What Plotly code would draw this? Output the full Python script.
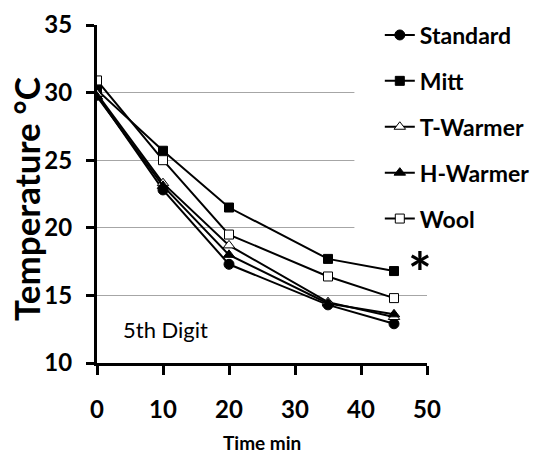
import plotly.graph_objects as go

time_min = [0, 10, 20, 35, 45]
series_names = ["Standard", "Mitt", "T-Warmer", "H-Warmer", "Wool"]
standard = [29.8, 22.8, 17.3, 14.3, 12.9]
mitt = [30.2, 25.7, 21.5, 17.7, 16.8]
t_warmer = [29.9, 23.3, 18.7, 14.5, 13.4]
h_warmer = [29.7, 23.1, 18.0, 14.4, 13.6]
wool = [30.9, 25.0, 19.5, 16.4, 14.8]
x_ticks = [0, 10, 20, 30, 40, 50]
y_ticks = [10, 15, 20, 25, 30, 35]

FONT = "Lato"
styles = [
    dict(symbol="circle", color="black", size=10),
    dict(symbol="square", color="black", size=9),
    dict(symbol="triangle-up", color="white", size=10),
    dict(symbol="triangle-up", color="black", size=10),
    dict(symbol="square", color="white", size=9),
]
values = [standard, mitt, t_warmer, h_warmer, wool]

fig = go.Figure()
for i, (name, vals, st) in enumerate(zip(series_names, values, styles)):
    fig.add_trace(go.Scatter(
        x=time_min, y=vals, name=name, mode="lines+markers",
        legendgroup=name,
        line=dict(color="black", width=2),
        marker=dict(symbol=st["symbol"], color=st["color"], size=st["size"],
                    line=dict(color="black", width=1)),
    ))

# white panel hiding the gridlines behind the legend
fig.add_shape(type="rect", xref="x", yref="y", x0=39, x1=51, y0=15.6, y1=36,
              fillcolor="white", line=dict(width=0), layer="between")

fig.update_layout(
    width=542, height=455,
    margin=dict(l=97, r=115, t=25, b=92, autoexpand=False),
    paper_bgcolor="white", plot_bgcolor="white",
    font=dict(family=FONT, color="black"),
    showlegend=True,
    legend=dict(x=0.857, xanchor="left", y=1.034, yanchor="top",
                bgcolor="rgba(0,0,0,0)", font=dict(size=23, family=FONT, weight="bold"),
                tracegroupgap=13, itemwidth=30),
    xaxis=dict(range=[0, 50], tickvals=x_ticks, showgrid=False,
               showline=True, linecolor="black", linewidth=3,
               ticks="outside", ticklen=9, tickwidth=3, tickcolor="black",
               ticklabelstandoff=14,
               tickfont=dict(size=24, family=FONT, weight="bold"),
               zeroline=False),
    yaxis=dict(range=[10, 35], tickvals=y_ticks, showgrid=True,
               gridcolor="#a6a6a6", gridwidth=1,
               showline=True, linecolor="black", linewidth=3,
               ticks="outside", ticklen=8, tickwidth=3, tickcolor="black",
               ticklabelstandoff=9,
               tickfont=dict(size=24, family=FONT, weight="bold"),
               zeroline=False),
)

fig.add_annotation(text="Temperature °C", xref="paper", yref="paper",
                   x=0, y=0.5, xshift=-71, yshift=-5, xanchor="center", yanchor="middle",
                   textangle=-90, showarrow=False,
                   font=dict(size=35, family=FONT, weight="bold"))
fig.add_annotation(text="Time min", xref="paper", yref="paper",
                   x=0.5, y=0, yshift=-93, xanchor="center", showarrow=False,
                   font=dict(size=19, family=FONT, weight="bold"))
fig.add_annotation(text="5th Digit", xref="x", yref="y",
                   x=3.6, y=12.5, xanchor="left", showarrow=False,
                   font=dict(size=22, family=FONT))
fig.add_annotation(text="*", xref="x", yref="y",
                   x=48.9, y=16.75, showarrow=False,
                   font=dict(size=56, family=FONT, weight="bold"))

fig.write_html(
    "out.html",
    config={"displayModeBar": False},
    post_script=("document.body.style.margin='0';"
                 "document.body.style.overflow='hidden';"
                 "document.documentElement.style.overflow='hidden';"),
)
